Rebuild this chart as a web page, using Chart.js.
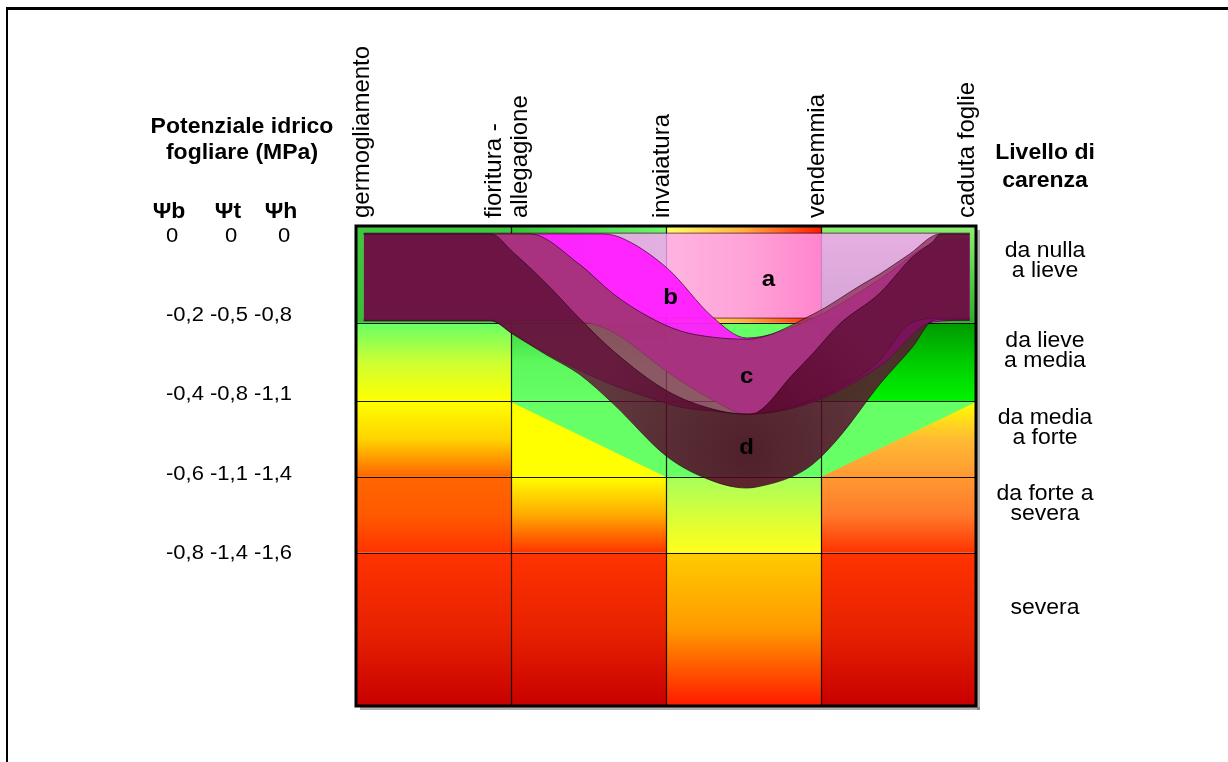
<!DOCTYPE html>
<html lang="it">
<head>
<meta charset="utf-8">
<title>Potenziale idrico fogliare e livello di carenza</title>
<script src="https://cdn.jsdelivr.net/npm/chart.js@4.4.1/dist/chart.umd.min.js"></script>
<style>
  html, body { margin: 0; padding: 0; background: #ffffff; }
  #wrap { width: 1228px; height: 762px; }
</style>
</head>
<body>
<div id="wrap"><canvas id="chart" width="1228" height="762"></canvas></div>
<script>
// ---- Fasi fenologiche (asse x: 0 = germogliamento ... 4 = caduta foglie)
const stages = ['germogliamento', ['fioritura -', 'allegagione'], 'invaiatura', 'vendemmia', 'caduta foglie'];

// ---- Potenziale idrico fogliare (MPa): posizione sull'asse (Ψb) ed etichette
const psiHeads = ['Ψb', 'Ψt', 'Ψh'];
const psiTicks = [0, -0.2, -0.4, -0.6, -0.8];
const psiB = ['0', '-0,2', '-0,4', '-0,6', '-0,8'];
const psiT = ['0', '-0,5', '-0,8', '-1,1', '-1,4'];
const psiH = ['0', '-0,8', '-1,1', '-1,4', '-1,6'];

// ---- Livelli di carenza e loro limiti lungo l'asse Ψb
const levels = [['da nulla', 'a lieve'], ['da lieve', 'a media'], ['da media', 'a forte'], ['da forte a', 'severa'], ['severa']];
const levelBounds = [0.025, -0.219, -0.416, -0.607, -0.798, -1.184];

// ---- Andamenti stagionali (fasce a, b, c, d): bordo superiore e inferiore in Ψb
const bandAx = [0.05, 3.96];
const bandAtop = [0.007, 0.007];
const bandAbottom = [-0.207, -0.207];

const bandBx = [0.05, 0.87, 1.32, 1.57, 1.70, 2.01, 2.30, 2.52, 2.95, 3.38, 3.72, 3.96];
const bandBtop = [0.005, 0.005, 0.005, 0.005, -0.003, -0.082, -0.204, -0.257, -0.207, -0.109, -0.018, -0.005];
const bandBbottom = [-0.212, -0.212, -0.212, -0.227, -0.252, -0.343, -0.413, -0.449, -0.418, -0.328, -0.217, -0.212];

const bandCx = [0.05, 0.87, 1.01, 1.12, 1.44, 1.66, 1.88, 2.09, 2.30, 2.52, 2.95, 3.27, 3.38, 3.57, 3.77, 3.96];
const bandCtop = [0.005, 0.005, 0.005, 0.005, -0.071, -0.146, -0.202, -0.239, -0.255, -0.260, -0.197, -0.121, -0.096, -0.046, 0.005, 0.005];
const bandCbottom = [-0.212, -0.212, -0.245, -0.272, -0.338, -0.376, -0.406, -0.431, -0.441, -0.449, -0.413, -0.348, -0.313, -0.222, -0.207, -0.207];

const bandDx = [0.05, 0.87, 1.01, 1.23, 1.44, 1.66, 2.01, 2.30, 2.52, 2.59, 2.82, 2.95, 3.12, 3.38, 3.59, 3.72, 3.77, 3.96];
const bandDtop = [0.005, 0.005, -0.040, -0.121, -0.207, -0.290, -0.391, -0.436, -0.449, -0.444, -0.348, -0.295, -0.222, -0.144, -0.053, -0.015, 0.005, 0.005];
const bandDbottom = [-0.214, -0.214, -0.247, -0.300, -0.348, -0.423, -0.557, -0.617, -0.635, -0.632, -0.605, -0.574, -0.506, -0.373, -0.280, -0.214, -0.212, -0.212];

// ---- Stili delle celle (righe = livelli, colonne = intervalli tra le fasi), sfumature dall'alto in basso
const cellStyles = [
  [{ v: ['#3fc83f', '#36c036'] }, { h: ['#33c233', '#6cf56c'] }, { h: ['#ffff66', '#ffb040', '#ff1a00'] }, { v: ['#8fef72', '#55d04a', '#2fab2f'] }],
  [{ v: ['#66ff66', '#ccff33', '#ffff00'] }, { v: ['#3cd43c', '#5cf85c', '#66ff66'] }, { v: ['#66ff66', '#66ff66'] }, { v: ['#009900', '#00cc00', '#00f400'] }],
  [{ v: ['#ffff00', '#ffd400', '#ff6400'] }, { v: ['#66ff66', '#66ff66'] }, { v: ['#66ff66', '#66ff66'] }, { v: ['#66ff66', '#66ff66'] }],
  [{ v: ['#ff6600', '#ff5a00', '#ff3300'] }, { v: ['#ffff00', '#ffaa00', '#ff3300'] }, { v: ['#a6ff5c', '#d6ff3a', '#ffff1a'] }, { v: ['#ff9933', '#ff7a2a', '#ff3300'] }],
  [{ v: ['#ff3300', '#e82200', '#c80000'] }, { v: ['#ff3300', '#e82200', '#c80000'] }, { v: ['#ffcc00', '#ff9900', '#ff1a00'] }, { v: ['#ff3300', '#e82200', '#c80000'] }]
];
// triangoli di transizione nel livello "da media a forte"
const wedges = [
  { row: 2, col: 1, side: 'left', stops: ['#ffff00', '#ffff00'] },
  { row: 2, col: 3, side: 'right', stops: ['#ffff00', '#ffbb33', '#ff9933'] }
];

const FONT = '"Liberation Sans", Arial, sans-serif';
const SQUISH = 0.92;

function pts(xs, ys) { return xs.map((x, i) => ({ x: x, y: ys[i] })); }

function dFill(context) {
  const chart = context.chart;
  if (!chart.chartArea) return 'rgba(95,15,55,0.82)';
  let k = 0;
  bandDbottom.forEach((v, i) => { if (v < bandDbottom[k]) k = i; });
  const cx = chart.scales.x.getPixelForValue(bandDx[k]);
  const cy = chart.scales.y.getPixelForValue((bandDtop[k] + bandDbottom[k]) / 2);
  const g = chart.ctx.createRadialGradient(cx, cy, 4, cx, cy, 160);
  g.addColorStop(0, 'rgba(78,2,34,0.88)');
  g.addColorStop(1, 'rgba(95,15,55,0.82)');
  return g;
}

const edge = 'rgba(40,0,20,0.65)';
function edgeSet(label, data, order, fill, color) {
  return {
    label: label, data: data, order: order, fill: fill,
    backgroundColor: color, borderColor: edge, borderWidth: 1,
    pointRadius: 0, cubicInterpolationMode: 'monotone'
  };
}

const datasets = [
  edgeSet('a sup', pts(bandAx, bandAtop), 9, false, 'transparent'),
  edgeSet('a', pts(bandAx, bandAbottom), 10, 0, 'rgba(255,160,255,0.80)'),
  edgeSet('b sup', pts(bandBx, bandBtop), 7, false, 'transparent'),
  edgeSet('b', pts(bandBx, bandBbottom), 8, 2, 'rgba(255,30,255,0.95)'),
  edgeSet('c sup', pts(bandCx, bandCtop), 5, false, 'transparent'),
  edgeSet('c', pts(bandCx, bandCbottom), 6, 4, 'rgba(149,52,100,0.82)'),
  edgeSet('d sup', pts(bandDx, bandDtop), 3, false, 'transparent'),
  edgeSet('d', pts(bandDx, bandDbottom), 4, 6, dFill)
];

function gradientFor(ctx, style, x0, y0, x1, y1) {
  const stops = style.v || style.h;
  const g = style.h ? ctx.createLinearGradient(x0, 0, x1, 0) : ctx.createLinearGradient(0, y0, 0, y1);
  stops.forEach((c, i) => g.addColorStop(i / (stops.length - 1), c));
  return g;
}

function drawText(ctx, str, x, y, font, align) {
  ctx.save();
  ctx.translate(x, y);
  ctx.scale(1, SQUISH);
  ctx.font = font;
  ctx.textAlign = align || 'center';
  ctx.textBaseline = 'middle';
  ctx.fillStyle = '#000';
  ctx.fillText(str, 0, 0);
  ctx.restore();
}

const diagramPlugin = {
  id: 'diagram',
  beforeDraw(chart) {
    const ctx = chart.ctx;
    ctx.save();
    ctx.fillStyle = '#ffffff';
    ctx.fillRect(0, 0, chart.width, chart.height);
    // cornice della figura
    ctx.fillStyle = '#000';
    ctx.fillRect(6, 7, chart.width - 6, 3);
    ctx.fillRect(6, 7, 2, chart.height - 7);
    ctx.restore();
  },
  beforeDatasetsDraw(chart) {
    const ctx = chart.ctx;
    const xs = chart.scales.x, ys = chart.scales.y;
    const area = chart.chartArea;
    ctx.save();
    // celle colorate
    cellStyles.forEach((row, r) => {
      const y0 = ys.getPixelForValue(levelBounds[r]);
      const y1 = ys.getPixelForValue(levelBounds[r + 1]);
      row.forEach((style, c) => {
        const x0 = xs.getPixelForValue(c);
        const x1 = xs.getPixelForValue(c + 1);
        ctx.fillStyle = gradientFor(ctx, style, x0, y0, x1, y1);
        ctx.fillRect(x0, y0, x1 - x0, y1 - y0);
      });
    });
    // triangoli di transizione
    wedges.forEach(w => {
      const y0 = ys.getPixelForValue(levelBounds[w.row]);
      const y1 = ys.getPixelForValue(levelBounds[w.row + 1]);
      const x0 = xs.getPixelForValue(w.col);
      const x1 = xs.getPixelForValue(w.col + 1);
      ctx.fillStyle = gradientFor(ctx, { v: w.stops }, x0, y0, x1, y1);
      ctx.beginPath();
      if (w.side === 'left') {
        ctx.moveTo(x0, y0 + 1); ctx.lineTo(x0, y1); ctx.lineTo(x1, y1);
      } else {
        ctx.moveTo(x1, y0 + 1); ctx.lineTo(x1, y1); ctx.lineTo(x0, y1);
      }
      ctx.closePath();
      ctx.fill();
    });
    // griglia
    ctx.strokeStyle = 'rgba(0,0,0,0.9)';
    ctx.lineWidth = 1.2;
    ctx.beginPath();
    for (let c = 1; c < stages.length - 1; c++) {
      const x = Math.round(xs.getPixelForValue(c)) + 0.5;
      ctx.moveTo(x, area.top); ctx.lineTo(x, area.bottom);
    }
    for (let r = 1; r < levelBounds.length - 1; r++) {
      const y = Math.round(ys.getPixelForValue(levelBounds[r])) + 0.5;
      ctx.moveTo(area.left, y); ctx.lineTo(area.right, y);
    }
    ctx.stroke();
    ctx.restore();
  },
  afterDatasetsDraw(chart) {
    const ctx = chart.ctx;
    const xs = chart.scales.x, ys = chart.scales.y;
    const area = chart.chartArea;
    ctx.save();
    // bordo del riquadro con ombra
    ctx.fillStyle = 'rgba(110,110,110,0.55)';
    ctx.fillRect(area.right + 1, area.top + 4, 3, area.bottom - area.top);
    ctx.fillRect(area.left + 4, area.bottom + 1, area.right - area.left, 3);
    ctx.strokeStyle = '#000';
    ctx.lineWidth = 3;
    ctx.strokeRect(area.left, area.top, area.right - area.left, area.bottom - area.top);
    ctx.restore();

    // lettere delle fasce
    const bandLabels = [
      { t: 'a', x: 2.66, y: -0.11 },
      { t: 'b', x: 2.03, y: -0.156 },
      { t: 'c', x: 2.52, y: -0.354 },
      { t: 'd', x: 2.52, y: -0.535 }
    ];
    bandLabels.forEach(l => drawText(ctx, l.t, xs.getPixelForValue(l.x), ys.getPixelForValue(l.y), 'bold 24px ' + FONT));
  },
  afterDraw(chart) {
    const ctx = chart.ctx;
    const xs = chart.scales.x, ys = chart.scales.y;
    const area = chart.chartArea;

    // titolo asse sinistro
    drawText(ctx, 'Potenziale idrico', area.left - 114, 127, 'bold 23px ' + FONT);
    drawText(ctx, 'fogliare (MPa)', area.left - 114, 153, 'bold 23px ' + FONT);
    const colX = [area.left - 187, area.left - 128, area.left - 75];
    psiHeads.forEach((h, i) => drawText(ctx, h, colX[i], 212, 'bold 23px ' + FONT));
    psiTicks.forEach((v, i) => {
      const y = ys.getPixelForValue(v);
      if (i === 0) {
        [psiB[i], psiT[i], psiH[i]].forEach((s, k) => drawText(ctx, s, colX[k] + 3, y, '22px ' + FONT));
      } else {
        drawText(ctx, psiB[i] + ' ' + psiT[i] + ' ' + psiH[i], area.left - 127, y, '22px ' + FONT);
      }
    });

    // titolo asse destro e livelli di carenza
    const rx = area.right + 69;
    drawText(ctx, 'Livello di', rx, 153, 'bold 23px ' + FONT);
    drawText(ctx, 'carenza', rx, 181, 'bold 23px ' + FONT);
    levels.forEach((lines, r) => {
      const y0 = ys.getPixelForValue(levelBounds[r]);
      const y1 = ys.getPixelForValue(levelBounds[r + 1]);
      const yc = y0 + 0.36 * (y1 - y0);
      const lh = 20;
      lines.forEach((s, k) => drawText(ctx, s, rx, yc + (k - (lines.length - 1) / 2) * lh, '23px ' + FONT));
    });

    // fasi fenologiche, testo verticale
    stages.forEach((lab, i) => {
      const lines = Array.isArray(lab) ? lab : [lab];
      const lh = 26;
      let cx = xs.getPixelForValue(i) - 4;
      cx = Math.max(area.left + 6, Math.min(area.right - 9, cx));
      lines.forEach((s, k) => {
        const x = cx + (k - (lines.length - 1) / 2) * lh;
        ctx.save();
        ctx.translate(x, area.top - 8);
        ctx.rotate(-Math.PI / 2);
        ctx.font = '24px ' + FONT;
        ctx.textAlign = 'left';
        ctx.textBaseline = 'middle';
        ctx.fillStyle = '#000';
        ctx.fillText(s, 0, 0);
        ctx.restore();
      });
    });
  }
};

new Chart(document.getElementById('chart'), {
  type: 'line',
  data: { datasets: datasets },
  options: {
    responsive: false,
    animation: false,
    devicePixelRatio: 1,
    layout: { padding: { left: 356, right: 252, top: 226, bottom: 56 } },
    scales: {
      x: { type: 'linear', min: 0, max: stages.length - 1, display: false },
      y: { type: 'linear', min: levelBounds[levelBounds.length - 1], max: levelBounds[0], display: false }
    },
    plugins: {
      legend: { display: false },
      tooltip: { enabled: false },
      filler: { propagate: false }
    },
    elements: { line: { tension: 0 } }
  },
  plugins: [diagramPlugin]
});
</script>
</body>
</html>
